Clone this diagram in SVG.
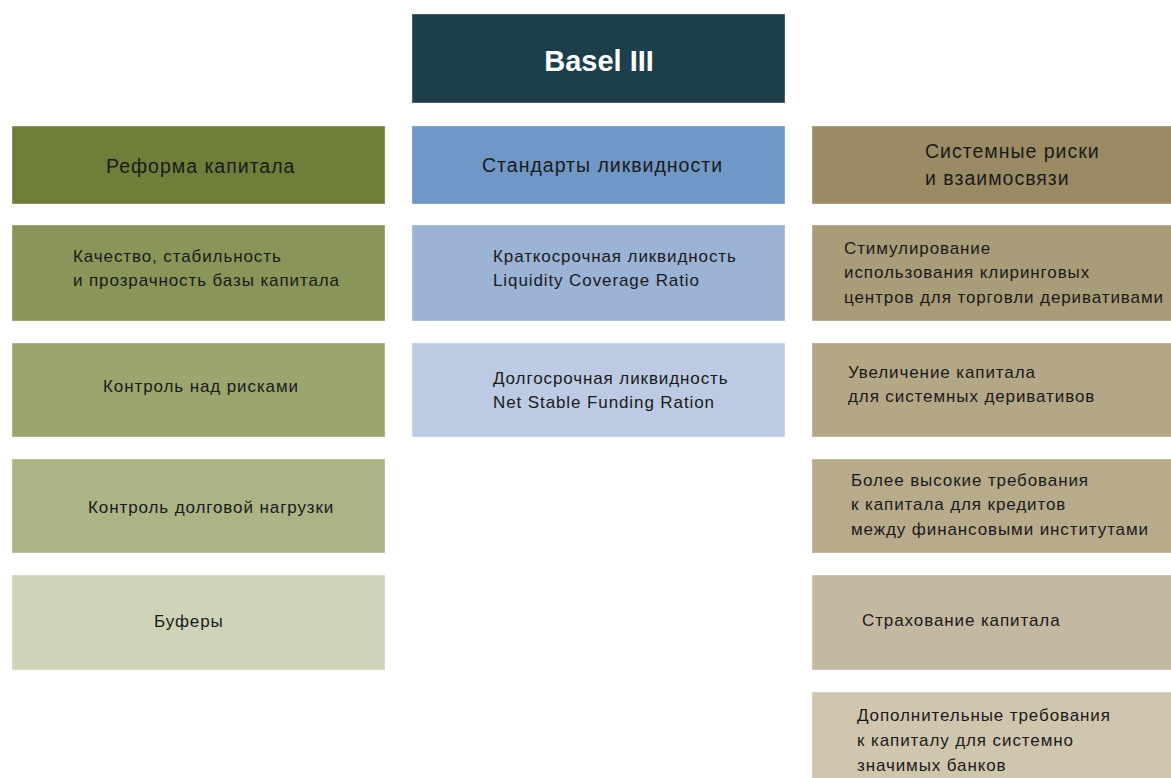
<svg xmlns="http://www.w3.org/2000/svg" width="1171" height="778" viewBox="0 0 1171 778">
<style>
.box{stroke:#ffffff;stroke-opacity:0.35;stroke-width:1}
.h{font-family:"Liberation Sans",Arial,sans-serif;font-size:19.5px;letter-spacing:1px;fill:#1a1a1a}
.t{font-family:"Liberation Sans",Arial,sans-serif;font-size:17px;letter-spacing:0.9px;fill:#1a1a1a}
.title{font-family:"Liberation Sans",Arial,sans-serif;font-size:29px;font-weight:bold;fill:#ffffff}
</style>
<rect width="1171" height="778" fill="#ffffff"/>
<g id="basel"><rect class="box" x="412" y="14" width="373" height="89" fill="#1c3f4b"/><text class="title" x="599" y="71" text-anchor="middle">Basel III</text></g>
<g id="capital-header"><rect class="box" x="12" y="126" width="373" height="78" fill="#6f7f3a"/><text class="h" x="106" y="173">Реформа капитала</text></g>
<g id="capital-1"><rect class="box" x="12" y="225" width="373" height="96" fill="#8a9659"/><text class="t" x="73" y="262">Качество, стабильность</text><text class="t" x="73" y="286">и прозрачность базы капитала</text></g>
<g id="capital-2"><rect class="box" x="12" y="343" width="373" height="94" fill="#9ba66e"/><text class="t" x="103" y="392">Контроль над рисками</text></g>
<g id="capital-3"><rect class="box" x="12" y="459" width="373" height="94" fill="#acb385"/><text class="t" x="88" y="513">Контроль долговой нагрузки</text></g>
<g id="capital-4"><rect class="box" x="12" y="575" width="373" height="95" fill="#cfd4b8"/><text class="t" x="154" y="627">Буферы</text></g>
<g id="liquidity-header"><rect class="box" x="412" y="126" width="373" height="78" fill="#7097c5"/><text class="h" x="482" y="172">Стандарты ликвидности</text></g>
<g id="liquidity-1"><rect class="box" x="412" y="225" width="373" height="96" fill="#9bb3d5"/><text class="t" x="493" y="262">Краткосрочная ликвидность</text><text class="t" x="493" y="286">Liquidity Coverage Ratio</text></g>
<g id="liquidity-2"><rect class="box" x="412" y="343" width="373" height="94" fill="#bccbe3"/><text class="t" x="493" y="384">Долгосрочная ликвидность</text><text class="t" x="493" y="408">Net Stable Funding Ration</text></g>
<g id="systemic-header"><rect class="box" x="812" y="126" width="370" height="78" fill="#9b8b65"/><text class="h" x="925" y="158">Системные риски</text><text class="h" x="925" y="185">и взаимосвязи</text></g>
<g id="systemic-1"><rect class="box" x="812" y="225" width="370" height="96" fill="#a99c79"/><text class="t" x="844" y="254">Стимулирование</text><text class="t" x="844" y="278">использования клиринговых</text><text class="t" x="844" y="303">центров для торговли деривативами</text></g>
<g id="systemic-2"><rect class="box" x="812" y="343" width="370" height="94" fill="#b4a785"/><text class="t" x="848" y="378">Увеличение капитала</text><text class="t" x="848" y="402">для системных деривативов</text></g>
<g id="systemic-3"><rect class="box" x="812" y="459" width="370" height="94" fill="#b8ab8c"/><text class="t" x="851" y="486">Более высокие требования</text><text class="t" x="851" y="510">к капитала для кредитов</text><text class="t" x="851" y="535">между финансовыми институтами</text></g>
<g id="systemic-4"><rect class="box" x="812" y="575" width="370" height="95" fill="#c4b8a0"/><text class="t" x="862" y="626">Страхование капитала</text></g>
<g id="systemic-5"><rect class="box" x="812" y="692" width="370" height="100" fill="#d0c6ae"/><text class="t" x="857" y="721">Дополнительные требования</text><text class="t" x="857" y="746">к капиталу для системно</text><text class="t" x="857" y="771">значимых банков</text></g>
<g id="connectors"/>
</svg>
